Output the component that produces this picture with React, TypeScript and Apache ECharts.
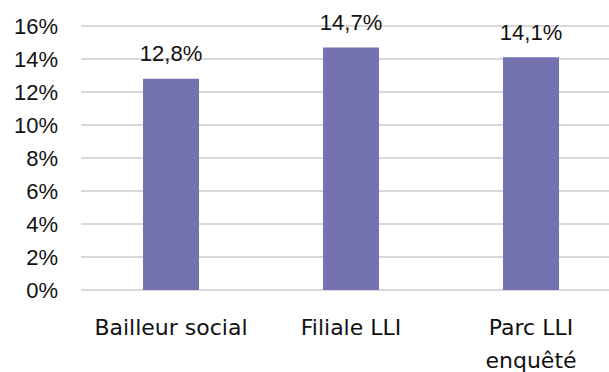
import React, { useEffect, useRef } from "react";
import * as echarts from "echarts";

const categories = ["Bailleur social", "Filiale LLI", "Parc LLI\nenquêté"];
const values = [12.8, 14.7, 14.1];
const valueLabels = ["12,8%", "14,7%", "14,1%"];

export default function App() {
  const ref = useRef<HTMLDivElement>(null);
  useEffect(() => {
    const chart = echarts.init(ref.current!, null, { renderer: "svg" });
    chart.setOption({
      animation: false,
      grid: {
        left: 81,
        top: 26,
        height: 264,
        width: 540,
        containLabel: false,
        outerBoundsMode: "none",
      },
      xAxis: {
        type: "category",
        data: categories,
        axisLine: { show: false },
        axisTick: { show: false },
        axisLabel: {
          color: "#111",
          fontSize: 22,
          fontFamily: "DejaVu Sans",
          margin: 21,
          lineHeight: 33,
          interval: 0,
        },
      },
      yAxis: {
        type: "value",
        min: 0,
        max: 16,
        interval: 2,
        axisLine: { show: false },
        axisTick: { show: false },
        splitLine: { lineStyle: { color: "#d9d9d9", width: 2 } },
        axisLabel: {
          color: "#111",
          fontSize: 22,
          fontFamily: "Liberation Sans",
          margin: 23,
          formatter: (v: number) => `${v}%`,
        },
      },
      series: [
        {
          type: "bar",
          data: values,
          barWidth: 56,
          itemStyle: { color: "#7472b0" },
          label: {
            show: true,
            position: "top",
            distance: 14,
            color: "#111",
            fontSize: 22,
            fontFamily: "Liberation Sans",
            formatter: (p: any) => valueLabels[p.dataIndex],
          },
        },
      ],
    });
    return () => chart.dispose();
  }, []);
  return <div ref={ref} style={{ width: 609, height: 372, position: "absolute", left: 0, top: 0 }} />;
}
